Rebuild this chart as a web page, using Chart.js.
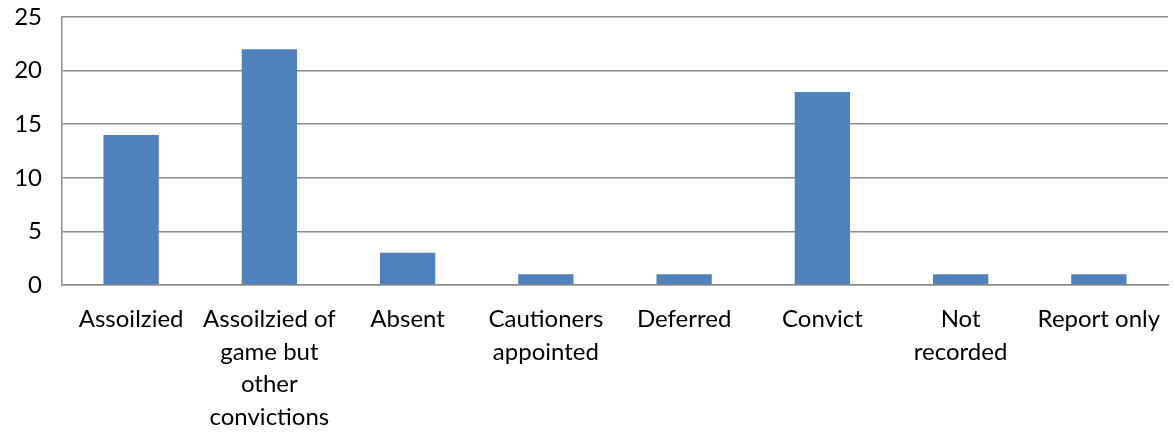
<!DOCTYPE html>
<html>
<head>
<meta charset="utf-8">
<script src="https://cdn.jsdelivr.net/npm/chart.js@4/dist/chart.umd.min.js"></script>
<style>
  html, body { margin: 0; padding: 0; background: #fff; }
  #wrap { width: 1175px; height: 432px; position: relative; }
</style>
</head>
<body>
<div id="wrap"><canvas id="outcomes"></canvas></div>
<script>
var categories = [
    'Assoilzied',
    ['Assoilzied of', 'game but', 'other', 'convictions'],
    'Absent',
    ['Cautioners', 'appointed'],
    'Deferred',
    'Convict',
    ['Not', 'recorded'],
    'Report only'
];
var counts = [14, 22, 3, 1, 1, 18, 1, 1];
var yMax = 25;
var yStep = 5;

var barBlue = '#4f81bd';
var gridGrey = '#8c8c8c';
var font = { family: 'Lato, "Open Sans", sans-serif', size: 24 };

new Chart(document.getElementById('outcomes').getContext('2d'), {
    type: 'bar',
    data: {
        labels: categories,
        datasets: [{ data: counts, backgroundColor: barBlue, borderWidth: 0 }]
    },
    options: {
        responsive: true,
        maintainAspectRatio: false,
        animation: false,
        layout: { padding: { top: 17, right: 7, left: 0, bottom: 0 } },
        plugins: { legend: { display: false }, tooltip: { enabled: false } },
        datasets: { bar: { categoryPercentage: 0.4, barPercentage: 1 } },
        scales: {
            x: {
                grid: { display: false, drawTicks: false },
                border: { color: gridGrey, width: 1.5 },
                ticks: { color: '#000', font: Object.assign({ lineHeight: 1.36 }, font), padding: 18, maxRotation: 0, autoSkip: false },
                afterFit: function (s) {
                    s.height = 147;
                    s.paddingLeft = 0;
                    s.paddingRight = 0;
                }
            },
            y: {
                min: 0,
                max: yMax,
                grid: { color: gridGrey, lineWidth: 1.5, drawTicks: false },
                border: { color: gridGrey, width: 1.5 },
                ticks: { stepSize: yStep, color: '#000', font: font, padding: 20 },
                afterFit: function (s) {
                    s.width = 62;
                    s.paddingTop = 0;
                    s.paddingBottom = 0;
                }
            }
        }
    }
});
</script>
</body>
</html>
